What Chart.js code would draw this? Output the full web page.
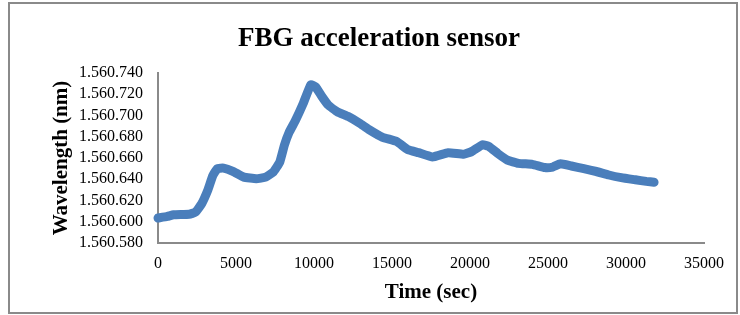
<!DOCTYPE html>
<html>
<head>
<meta charset="utf-8">
<script src="https://cdn.jsdelivr.net/npm/chart.js@4/dist/chart.umd.min.js"></script>
<style>
    body { margin: 0; background: #fff; }
    #wrap { width: 740px; height: 315px; }
</style>
</head>
<body>
<div id="wrap"><canvas id="sensorChart" width="740" height="315"></canvas></div>
<script>
// time in seconds, wavelength in nm
const timeSec = [0, 600, 1000, 2000, 2400, 2800, 3200, 3500, 3800, 4200,
    4800, 5500, 6300, 6900, 7400, 7800, 8100, 8400, 8800, 9300,
    9800, 10100, 10500, 10900, 11500, 12200, 12900, 13500, 14400, 15300,
    16000, 16700, 17600, 18600, 19600, 20100, 20800, 21200, 21800, 22400,
    23100, 24000, 24800, 25300, 25800, 26500, 27300, 28100, 28900, 29700,
    30600, 31300, 31800];
const wavelengthNm = [1560.6035, 1560.605, 1560.6065, 1560.607, 1560.609, 1560.617, 1560.630, 1560.643, 1560.650, 1560.6505,
    1560.6475, 1560.642, 1560.6405, 1560.642, 1560.647, 1560.656, 1560.672, 1560.684, 1560.695, 1560.711,
    1560.729, 1560.727, 1560.718, 1560.710, 1560.7035, 1560.699, 1560.693, 1560.687, 1560.6795, 1560.6755,
    1560.668, 1560.665, 1560.661, 1560.665, 1560.6635, 1560.666, 1560.6725, 1560.671, 1560.664, 1560.658,
    1560.655, 1560.654, 1560.651, 1560.6515, 1560.6545, 1560.6525, 1560.650, 1560.6473, 1560.644, 1560.6415,
    1560.6395, 1560.638, 1560.6372];

const xTicks = [0, 5000, 10000, 15000, 20000, 25000, 30000, 35000];
const yTicks = [1560.58, 1560.60, 1560.62, 1560.64, 1560.66, 1560.68, 1560.70, 1560.72, 1560.74];

Chart.defaults.font.family = "'Liberation Serif', 'Times New Roman', serif";
Chart.defaults.color = '#000';

// "1560.740" -> "1.560.740"
function fmtWave(v) {
    const s = v.toFixed(3);
    return s[0] + '.' + s.slice(1);
}

const frame = {
    id: 'frame',
    beforeDraw(chart) {
        const ctx = chart.ctx;
        ctx.save();
        ctx.strokeStyle = '#8a8a8a';
        ctx.lineWidth = 2;
        ctx.strokeRect(9, 3, 728, 310);
        ctx.restore();
    }
};

const points = timeSec.map((t, i) => ({ x: t, y: wavelengthNm[i] }));

new Chart(document.getElementById('sensorChart').getContext('2d'), {
    type: 'line',
    data: {
        datasets: [{
            label: 'Wavelength',
            data: points,
            borderColor: '#4a7ebb',
            borderWidth: 9,
            borderCapStyle: 'round',
            borderJoinStyle: 'round',
            pointRadius: 0,
            tension: 0.12,
            clip: 12,
        }],
    },
    options: {
        responsive: false,
        animation: false,
        layout: { padding: { left: 20, right: 2, top: 0, bottom: 0 } },
        plugins: {
            legend: { display: false },
            tooltip: { enabled: false },
            title: {
                display: true,
                text: 'FBG acceleration sensor',
                font: { size: 27, weight: 'bold' },
                padding: { top: 23, bottom: 17.6 },
            },
        },
        scales: {
            x: {
                type: 'linear',
                min: 0,
                max: 35000,
                afterBuildTicks: (s) => { s.ticks = xTicks.map(v => ({ value: v })); },
                afterFit: (s) => { s.height = 72; },
                grid: { display: false, drawTicks: false },
                border: { color: '#8a8a8a', width: 2 },
                ticks: { font: { size: 16 }, padding: 11, maxRotation: 0, autoSkip: false, callback: (v) => String(v) },
                title: {
                    display: true,
                    text: 'Time (sec)',
                    font: { size: 21, weight: 'bold' },
                    padding: { bottom: 10 },
                },
            },
            y: {
                min: 1560.58,
                max: 1560.74,
                afterBuildTicks: (s) => { s.ticks = yTicks.map(v => ({ value: v })); },
                afterFit: (s) => { s.width = 138; },
                grid: { display: false, drawTicks: false },
                border: { color: '#8a8a8a', width: 2 },
                ticks: { font: { size: 16 }, padding: 15, autoSkip: false, callback: (v) => fmtWave(v) },
                title: {
                    display: true,
                    text: 'Wavelength (nm)',
                    font: { size: 21, weight: 'bold' },
                    padding: { top: 29 },
                },
            },
            pad: {
                type: 'linear',
                position: 'right',
                afterFit: (s) => { s.width = 34; },
                grid: { display: false },
                border: { display: false },
                ticks: { display: false },
            },
        },
    },
    plugins: [frame],
});
</script>
</body>
</html>
